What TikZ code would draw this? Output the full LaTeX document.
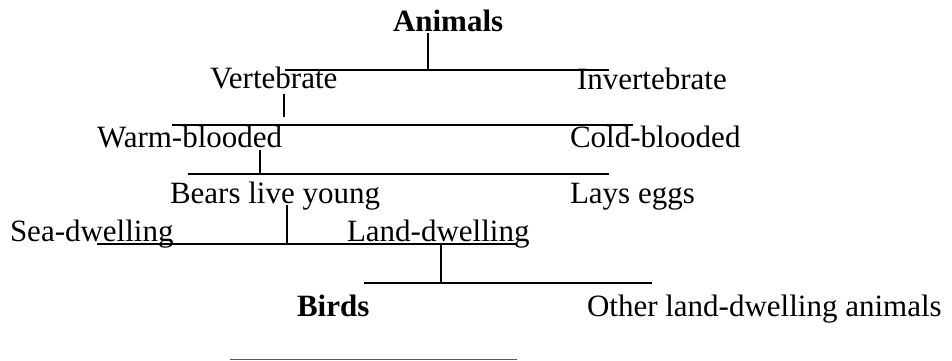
\documentclass[tikz,border=0pt]{standalone}
\usepackage{fontspec}
\setmainfont{Liberation Serif}
\begin{document}
\begin{tikzpicture}[x=1pt,y=-1pt,
  lbl/.style={anchor=base west,inner sep=0pt,outer sep=0pt,font=\fontsize{31}{37}\selectfont},
  boldlbl/.style={lbl,font=\fontsize{31}{37}\selectfont\bfseries},
  bar/.style={line width=1.5pt,black},
  faint/.style={line width=1.5pt,black!65}]
\useasboundingbox (0,0) rectangle (952,361);
% labels
\node[boldlbl] (animals) at (393,32) {Animals};
\node[lbl] (vert) at (210,88) {Vertebrate};
\node[lbl] (invert) at (577,89) {Invertebrate};
\node[lbl] (warm) at (97,147) {Warm-blooded};
\node[lbl] (cold) at (570,147) {Cold-blooded};
\node[lbl] (bears) at (170,203) {Bears live young};
\node[lbl] (lays) at (570,203) {Lays eggs};
\node[lbl] (sea) at (10,241) {Sea-dwelling};
\node[lbl] (land) at (347,241) {Land-dwelling};
\node[boldlbl] (birds) at (297,316) {Birds};
\node[lbl] (other) at (587,316) {Other land-dwelling animals};
% junction coordinates
\coordinate (a1) at (428,33);  \coordinate (a2) at (428,70);
\coordinate (b1L) at (285,70); \coordinate (b1R) at (609,70);
\coordinate (v1) at (284,94);  \coordinate (v2) at (284,117);
\coordinate (b2L) at (172,125); \coordinate (b2R) at (633,125);
\coordinate (w1) at (260,150); \coordinate (w2) at (260,173);
\coordinate (b3L) at (188,174); \coordinate (b3R) at (609,174);
\coordinate (y1) at (287,205); \coordinate (y2) at (287,244);
\coordinate (b4L) at (97,244); \coordinate (b4R) at (517,244);
\coordinate (l1) at (441,245); \coordinate (l2) at (441,283);
\coordinate (b5L) at (364,283); \coordinate (b5R) at (652,283);
\coordinate (b6L) at (230,359.5); \coordinate (b6R) at (517,359.5);
% connectors
\draw[bar] (a1) -- (a2);
\draw[bar] (b1L) -- (b1R);
\draw[bar] (v1) -- (v2);
\draw[bar] (b2L) -- (b2R);
\draw[bar] (w1) -- (w2);
\draw[bar] (b3L) -- (b3R);
\draw[bar] (y1) -- (y2);
\draw[bar] (b4L) -- (b4R);
\draw[bar] (l1) -- (l2);
\draw[bar] (b5L) -- (b5R);
\draw[faint] (b6L) -- (b6R);
\end{tikzpicture}
\end{document}
